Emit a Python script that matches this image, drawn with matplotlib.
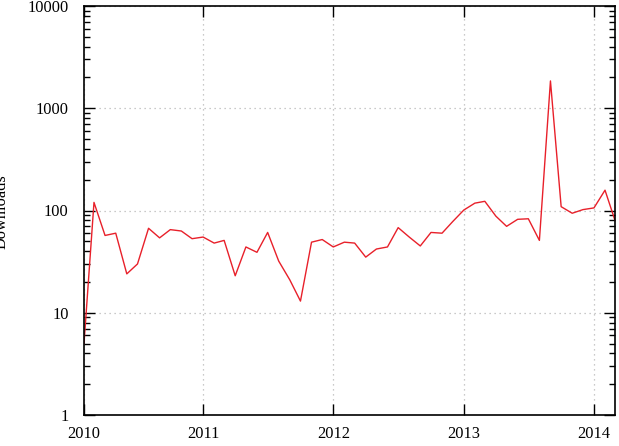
import pandas as pd
import matplotlib
matplotlib.use("Agg")
import matplotlib.pyplot as plt
import matplotlib.dates as mdates
from matplotlib.ticker import LogLocator, NullFormatter, FixedLocator, FixedFormatter

# monthly downloads, Feb 2010 - Mar 2014
start_month = "2010-02-01"
downloads = [
    5, 120, 57, 60, 24, 30, 67, 54, 65, 63, 53,            # 2010
    55, 48, 51, 23, 44, 39, 61, 32, 21, 13, 49, 52,       # 2011
    44, 49, 48, 35, 42, 44, 68, 55, 45, 61, 60, 78,       # 2012
    101, 118, 123, 88, 70, 82, 83, 51, 1850, 109, 94, 102,  # 2013
    106, 158, 80,                                          # 2014
]
tick_dates = ["2010-02-01", "2011-01-01", "2012-01-01", "2013-01-01", "2014-01-01"]
tick_labels = ["2010", "2011", "2012", "2013", "2014"]

dates = pd.date_range(start=start_month, periods=len(downloads), freq="MS")

plt.rcParams["font.family"] = ["Liberation Serif", "DejaVu Serif"]

fig = plt.figure(figsize=(6.19, 4.46), dpi=100)
ax = fig.add_axes([84 / 619, 31 / 446, 531 / 619, 409 / 446])

ax.plot(dates, downloads, color="#e8202a", linewidth=1.0)

ax.set_yscale("log")
ax.set_ylim(1, 10000)
ax.set_xlim(dates[0], dates[-1])

ax.xaxis.set_major_locator(FixedLocator(mdates.date2num(pd.to_datetime(tick_dates))))
ax.xaxis.set_major_formatter(FixedFormatter(tick_labels))
ax.yaxis.set_major_locator(LogLocator(base=10))
ax.yaxis.set_minor_locator(LogLocator(base=10, subs=range(2, 10)))
ax.yaxis.set_minor_formatter(NullFormatter())
ax.set_yticks([1, 10, 100, 1000, 10000])
ax.set_yticklabels(["1", "10", "100", "1000", "10000"])

ax.tick_params(which="both", direction="in", top=True, right=True, labelsize=11.8, width=1.0)
ax.tick_params(which="major", length=8)
ax.tick_params(which="minor", length=4.3)
ax.tick_params(axis="y", pad=11)
ax.tick_params(axis="x", pad=8)

ax.grid(True, which="major", color="#b8b8b8", linestyle=(0, (1, 3)), linewidth=0.9)

for s in ax.spines.values():
    s.set_linewidth(1.2)

# y label sits at the very left edge, partly cut off as in the original
fig.text(0.002, 0.525, "Downloads", rotation=90, ha="center", va="center", fontsize=11.8)

fig.savefig("out.png", dpi=100)
